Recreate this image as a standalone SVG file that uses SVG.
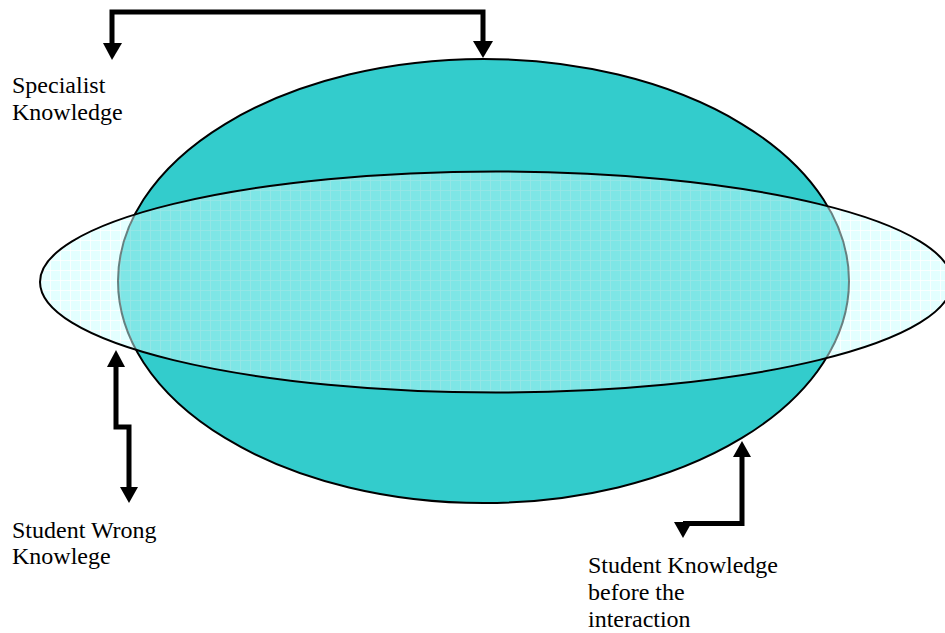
<svg xmlns="http://www.w3.org/2000/svg" width="945" height="633" viewBox="0 0 945 633">
  <style>
    .lbl { font-family: "Liberation Serif", "Times New Roman", serif; font-size: 24px; fill: #000; }
    .conn { fill: none; stroke: #000; stroke-width: 5; stroke-linejoin: miter; }
    .head { fill: #000; stroke: none; }
  </style>
  <defs>
    <pattern id="grid" width="10" height="10" patternUnits="userSpaceOnUse">
      <rect width="10" height="10" fill="#C8FFFF"/>
      <path d="M0,0.5 H10 M0.5,0 V10" stroke="#FFFFFF" stroke-width="1" stroke-opacity="0.8"/>
    </pattern>
  </defs>
  <rect width="945" height="633" fill="#FFFFFF"/>

  <g id="specialist-knowledge">
    <ellipse cx="483.5" cy="281" rx="365.5" ry="222" fill="#33CCCC" stroke="#000" stroke-width="2"/>
  </g>

  <g id="student-knowledge">
    <ellipse cx="496" cy="282" rx="456" ry="110.5" fill="url(#grid)" fill-opacity="0.5" stroke="none"/>
    <ellipse cx="496" cy="282" rx="456" ry="110.5" fill="none" stroke="#000" stroke-width="2"/>
  </g>

  <g id="connectors">
    <polyline class="conn" points="112,43 112,12 483,12 483,41"/>
    <polygon class="head" points="103,43 122,43 112,60"/>
    <polygon class="head" points="473,41 493,41 483,58"/>

    <polyline class="conn" points="116,366 116,427 129,427 129,488"/>
    <polygon class="head" points="107,367 125,367 116,350"/>
    <polygon class="head" points="120,487 138,487 129,503"/>

    <polyline class="conn" points="742,456 742,523.5 683,523.5"/>
    <polygon class="head" points="733,457 751,457 742,441"/>
    <polygon class="head" points="674,522 692,522 683,538"/>
  </g>

  <g id="label-specialist">
    <text class="lbl" x="12" y="93">Specialist</text>
    <text class="lbl" x="12" y="120">Knowledge</text>
  </g>
  <g id="label-wrong">
    <text class="lbl" x="12" y="538">Student Wrong</text>
    <text class="lbl" x="12" y="564">Knowlege</text>
  </g>
  <g id="label-before">
    <text class="lbl" x="588" y="573">Student Knowledge</text>
    <text class="lbl" x="588" y="600">before the</text>
    <text class="lbl" x="588" y="627">interaction</text>
  </g>
</svg>
